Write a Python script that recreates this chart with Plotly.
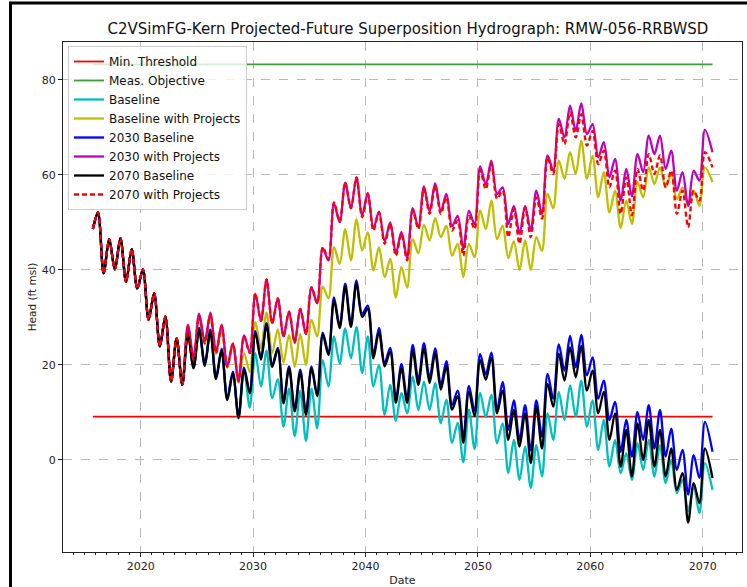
import plotly.graph_objects as go

# ---------------- data ----------------
TITLE = "C2VSimFG-Kern Projected-Future Superposition Hydrograph: RMW-056-RRBWSD"
YEARS = list(range(2016, 2071))
START_DATE = "2015-10-01"
END_DATE = "2070-11-15"

MIN_THRESHOLD = 9.1
MEAS_OBJECTIVE = 83.3

START_VALUE = 48.6
# shared history 2016-2023: (spring peak, autumn trough) per year
COMMON = [52.1, 39.3, 46.5, 40.1, 46.7, 37.5, 44.4, 36.1,
          40.1, 29.5, 35.1, 23.9, 30.2, 16.5, 25.6, 15.8]

# 2024-2070: (spring peak, autumn trough) per year, last value = end of record
BASELINE = [
    26.5, 19.3, 27.4, 19.8, 27.0, 17.0, 23.0, 12.6, 18.2, 8.8,
    19.0, 11.0, 22.5, 15.5, 23.0, 13.0, 17.0, 7.0, 15.0, 5.0,
    14.5, 4.0, 15.0, 6.7, 21.0, 15.5, 26.0, 20.3, 27.7, 21.4,
    28.0, 18.3, 26.0, 15.5, 20.0, 9.5, 15.8, 8.2, 14.1, 9.8,
    17.6, 10.5, 16.5, 10.5, 16.2, 7.7, 12.7, 3.6, 7.8, -0.5,
    10.6, 2.3, 14.1, 9.0, 13.7, 3.5, 7.7, -2.8, 4.2, -4.2,
    2.8, -5.9, 3.1, -3.5, 9.8, 4.2, 14.3, 8.4, 15.7, 9.1,
    16.7, 7.0, 12.5, 2.1, 8.4, -1.4, 4.2, -2.8, 1.4, -4.2,
    3.5, -2.1, 4.2, -3.5, 3.1, -4.9, 0.0, -7.0, -4.2, -10.8,
    -5.6, -11.2, -0.7, -6.3]
BASELINE_PROJ = [
    27.7, 20.9, 30.0, 24.3, 30.2, 22.3, 27.8, 19.4, 24.2, 16.3,
    22.5, 18.5, 29.0, 23.5, 31.0, 22.5, 27.5, 20.5, 26.3, 19.6,
    26.5, 20.0, 29.5, 26.0, 36.5, 34.0, 44.8, 41.3, 48.6, 42.0,
    50.7, 44.1, 47.9, 39.9, 44.8, 38.5, 42.3, 34.2, 40.6, 36.3,
    46.5, 43.5, 49.5, 46.2, 50.9, 46.9, 49.3, 43.0, 45.5, 38.5,
    45.5, 42.7, 52.5, 48.6, 54.6, 46.5, 49.3, 42.5, 46.0, 40.0,
    46.2, 40.0, 46.9, 44.0, 56.0, 53.0, 63.0, 59.2, 64.8, 60.2,
    67.2, 59.2, 64.0, 55.3, 60.6, 52.1, 56.7, 48.8, 54.6, 49.7,
    58.5, 55.3, 61.6, 58.1, 61.6, 57.4, 60.2, 54.9, 57.4, 53.5,
    56.7, 53.5, 61.6, 58.5]
BASE_2030 = [
    27.3, 19.6, 27.8, 20.2, 27.4, 17.4, 23.4, 13.0, 18.6, 9.2,
    19.4, 14.4, 27.1, 21.5, 28.8, 20.0, 23.6, 12.3, 19.7, 10.6,
    19.0, 9.9, 19.7, 13.8, 26.8, 22.6, 34.2, 28.2, 37.1, 28.6,
    37.8, 30.7, 32.5, 22.1, 27.8, 20.4, 23.6, 12.8, 20.2, 12.8,
    24.2, 16.8, 24.6, 17.2, 23.5, 15.8, 20.8, 11.6, 14.6, 4.6,
    15.6, 10.4, 22.3, 18.0, 22.6, 10.5, 16.4, 6.3, 12.5, 4.2,
    11.5, 2.0, 12.5, 4.9, 18.1, 12.9, 24.3, 18.8, 26.1, 19.5,
    26.3, 17.8, 21.6, 12.9, 16.7, 8.4, 12.2, 1.7, 8.4, 0.7,
    10.1, 4.2, 11.5, 2.4, 10.5, 0.7, 6.6, -2.1, 2.1, -7.3,
    1.0, -3.8, 8.0, 1.7]
PROJ_2030 = [
    28.5, 21.5, 30.8, 25.0, 31.0, 22.8, 28.5, 19.8, 24.5, 16.6,
    26.2, 22.6, 35.0, 29.3, 38.0, 28.8, 34.0, 26.0, 31.2, 24.7,
    31.8, 26.5, 36.3, 33.0, 44.6, 42.0, 54.0, 50.0, 58.4, 53.0,
    59.5, 51.5, 56.2, 48.8, 52.3, 46.0, 50.0, 43.5, 48.0, 42.5,
    53.0, 49.0, 57.6, 52.3, 58.3, 52.4, 56.0, 49.2, 51.4, 44.4,
    52.5, 49.6, 61.8, 58.0, 63.0, 56.0, 57.4, 49.7, 53.5, 47.6,
    53.5, 48.3, 56.7, 51.8, 64.1, 60.9, 71.8, 67.9, 74.6, 69.3,
    75.1, 68.6, 70.7, 63.7, 66.9, 59.5, 63.4, 54.6, 61.3, 55.5,
    64.4, 60.6, 68.3, 64.4, 68.3, 61.3, 65.1, 56.7, 60.6, 53.5,
    60.9, 58.8, 69.5, 64.8]
BASE_2070 = [
    26.5, 19.3, 27.4, 19.8, 27.0, 17.0, 23.0, 12.6, 18.2, 8.8,
    19.0, 14.0, 26.7, 21.1, 28.4, 19.6, 23.2, 11.9, 19.3, 10.2,
    18.6, 9.5, 19.3, 13.4, 26.3, 22.1, 33.6, 27.7, 36.5, 28.0,
    37.2, 30.1, 31.8, 21.4, 27.0, 19.7, 22.8, 12.0, 19.3, 12.0,
    23.1, 15.8, 23.5, 16.2, 22.4, 14.8, 19.7, 10.6, 13.4, 3.6,
    14.4, 9.2, 21.0, 16.9, 21.5, 9.8, 14.6, 4.2, 10.5, 2.8,
    9.8, -0.7, 11.2, 2.4, 16.0, 11.2, 22.3, 16.7, 23.7, 17.4,
    24.0, 14.6, 18.8, 9.8, 14.3, 4.2, 9.8, -1.4, 6.3, -3.5,
    7.7, 0.0, 8.4, -1.4, 6.3, -3.5, 2.4, -6.3, -2.8, -13.2,
    -4.9, -9.1, 2.4, -3.8]
PROJ_2070 = [
    28.0, 21.1, 30.3, 24.6, 30.5, 22.5, 28.1, 19.6, 24.5, 16.5,
    26.0, 22.5, 35.0, 29.3, 38.0, 28.8, 34.0, 26.0, 31.2, 24.7,
    31.8, 26.5, 36.3, 33.0, 44.8, 42.3, 54.2, 50.2, 58.4, 53.0,
    59.5, 51.1, 56.0, 48.3, 52.1, 45.5, 49.7, 43.0, 47.6, 42.0,
    52.5, 48.6, 57.1, 51.8, 57.8, 51.8, 55.3, 48.3, 50.4, 43.0,
    51.4, 48.6, 61.0, 57.0, 62.5, 55.0, 56.7, 46.9, 52.8, 45.5,
    53.2, 46.9, 55.3, 50.8, 63.7, 60.2, 70.7, 66.5, 73.2, 67.9,
    72.8, 66.2, 69.3, 62.3, 65.1, 57.4, 60.9, 51.8, 59.5, 51.5,
    61.3, 56.7, 64.4, 60.2, 64.1, 57.4, 60.9, 51.8, 56.7, 49.0,
    56.7, 54.6, 64.8, 61.6]

# ---------------- dates: spring peak / autumn trough each year ----------------
DATES = [START_DATE]
for y in YEARS:
    DATES += [f"{y}-03-15", f"{y}-09-15"]
DATES[-1] = END_DATE


def full(series):
    return [START_VALUE] + COMMON + series


SERIES = [
    ("Baseline", BASELINE, "#00bfbf", "solid"),
    ("Baseline with Projects", BASELINE_PROJ, "#bfbf00", "solid"),
    ("2030 Baseline", BASE_2030, "#0000ff", "solid"),
    ("2030 with Projects", PROJ_2030, "#bf00bf", "solid"),
    ("2070 Baseline", BASE_2070, "#000000", "solid"),
    ("2070 with Projects", PROJ_2070, "#ff0000", "5px,3px"),
]

FONT = "DejaVu Sans"
fig = go.Figure()
fig.add_trace(go.Scatter(x=[DATES[0], DATES[-1]], y=[MIN_THRESHOLD, MIN_THRESHOLD],
                         mode="lines", name="Min. Threshold",
                         line=dict(color="#ff0000", width=1.8)))
fig.add_trace(go.Scatter(x=[DATES[0], DATES[-1]], y=[MEAS_OBJECTIVE, MEAS_OBJECTIVE],
                         mode="lines", name="Meas. Objective",
                         line=dict(color="#3a9f3a", width=1.8)))
for name, vals, color, dash in SERIES:
    fig.add_trace(go.Scatter(x=DATES, y=full(vals), mode="lines", name=name,
                             line=dict(color=color, width=2.3, dash=dash,
                                       shape="spline", smoothing=0.9)))

L, R, T, B = 63, 5, 42, 35
W, H = 747, 587
pw, ph = W - L - R, H - T - B


def px(xpix):
    return (xpix - L) / pw


def py(ypix):
    return (H - B - ypix) / ph


fig.update_layout(
    width=W, height=H,
    margin=dict(l=L, r=R, t=T, b=B),
    paper_bgcolor="white", plot_bgcolor="white",
    font=dict(family=FONT, size=11, color="#222"),
    title=dict(text=TITLE, font=dict(family=FONT, size=15, color="#111"),
               xref="paper", x=px(408), xanchor="center",
               yref="container", y=1 - 29 / H, yanchor="middle"),
    showlegend=True,
    legend=dict(x=px(68), y=py(46), xanchor="left", yanchor="top",
                bgcolor="rgba(255,255,255,0.8)", bordercolor="#cccccc",
                borderwidth=1, font=dict(family=FONT, size=12, color="#111"),
                tracegroupgap=0, itemwidth=30),
    xaxis=dict(type="date", range=["2013-02-03", "2073-07-01"],
               tick0="2020-01-01", dtick="M120", tickformat="%Y",
               showgrid=True, gridcolor="#b8b8b8", griddash="dash", gridwidth=1,
               showline=True, mirror=True, linecolor="#222", linewidth=1.2,
               ticks="outside", ticklen=4, tickcolor="#222",
               minor=dict(dtick="M12", tick0="2020-01-01", ticks="outside",
                          ticklen=2, tickcolor="#222", showgrid=False),
               title=dict(text="Date", standoff=4, font=dict(size=11)),
               zeroline=False, automargin=False),
    yaxis=dict(range=[-19.4, 88.0], tickvals=[0, 20, 40, 60, 80],
               showgrid=True, gridcolor="#b8b8b8", griddash="dash", gridwidth=1,
               showline=True, mirror=True, linecolor="#222", linewidth=1.2,
               ticks="outside", ticklen=4, tickcolor="#222",
               title=dict(text="Head (ft msl)", standoff=3, font=dict(size=10.5)),
               zeroline=False, automargin=False),
    shapes=[dict(type="rect", xref="paper", yref="paper",
                 x0=px(10.5), x1=px(770), y0=py(610), y1=py(3),
                 line=dict(color="black", width=3), fillcolor="rgba(0,0,0,0)",
                 layer="above")],
)

fig.write_html("out.html",
               config={"displayModeBar": False},
               post_script="document.body.style.margin='0px';"
                           "document.body.style.overflow='hidden';")
